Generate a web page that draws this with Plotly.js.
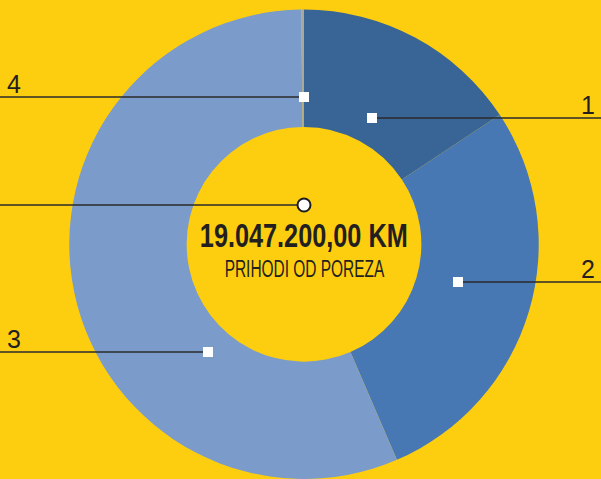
<!DOCTYPE html>
<html><head><meta charset="utf-8">
<script src="https://cdn.plot.ly/plotly-3.0.1.min.js"></script>
<style>html,body{margin:0;padding:0;background:#FDCE10;overflow:hidden}</style>
</head><body>
<div id="chart" style="width:601px;height:479px"></div>
<script>
// Data
const categories = ['1', '2', '3', '4'];
const values = [2990000, 5300000, 10720000, 37200];
const totalLabel = '19.047.200,00 KM';
const subtitle = 'PRIHODI OD POREZA';
const sliceColors = ['#386595', '#4878B3', '#7B9BCA', '#A9A99B'];

// Layout constants (pixel coords in overlay axes)
const W = 601, H = 479;
const leaders = [
  {m: [372, 118], end: 601, lab: [597, 105], align: 'right'},
  {m: [458, 282], end: 601, lab: [597, 269], align: 'right'},
  {m: [208, 352], end: 0, lab: [5, 339], align: 'left'},
  {m: [304, 97], end: 0, lab: [5, 84], align: 'left'}
];
const centerLeader = {m: [304, 205], end: 0};
const lineColor = '#2a2a2a';

const traces = [{
  type: 'pie',
  labels: categories,
  values: values,
  hole: 0.5,
  sort: false,
  direction: 'clockwise',
  rotation: 0,
  textinfo: 'none',
  hoverinfo: 'label+value+percent',
  marker: {colors: sliceColors, line: {width: 0}},
  domain: {x: [68 / W, 540 / W], y: [0, 0.98]},
  showlegend: false
}, {
  // invisible trace to establish the overlay axes
  type: 'scatter', mode: 'markers', x: [0, W], y: [0, H],
  marker: {opacity: 0}, hoverinfo: 'skip', showlegend: false
}];

const shapes = [];
leaders.forEach(l => {
  shapes.push({type: 'line', xref: 'x', yref: 'y', layer: 'above',
    x0: l.m[0], x1: l.end, y0: l.m[1], y1: l.m[1],
    line: {color: lineColor, width: 1.5}});
});
shapes.push({type: 'line', xref: 'x', yref: 'y', layer: 'above',
  x0: centerLeader.m[0], x1: centerLeader.end, y0: centerLeader.m[1], y1: centerLeader.m[1],
  line: {color: lineColor, width: 1.5}});
const sq = 5;
leaders.forEach(l => {
  shapes.push({type: 'rect', xref: 'x', yref: 'y', layer: 'above',
    x0: l.m[0] - sq, x1: l.m[0] + sq, y0: l.m[1] - sq, y1: l.m[1] + sq,
    fillcolor: '#ffffff', line: {width: 0}});
});
const cr = 6.5;
shapes.push({type: 'circle', xref: 'x', yref: 'y', layer: 'above',
  x0: centerLeader.m[0] - cr, x1: centerLeader.m[0] + cr,
  y0: centerLeader.m[1] - cr, y1: centerLeader.m[1] + cr,
  fillcolor: '#ffffff', line: {width: 2, color: '#1e1e1e'}});

const annotations = leaders.map((l, i) => ({
  xref: 'x', yref: 'y', x: l.lab[0], y: l.lab[1], text: categories[i],
  showarrow: false, xanchor: l.align, yanchor: 'middle',
  font: {family: 'Liberation Sans, sans-serif', size: 25, color: '#231F20'}
}));
annotations.push({
  xref: 'x', yref: 'y', x: 304, y: 235, text: '<b>' + totalLabel + '</b>', showarrow: false,
  xanchor: 'center', yanchor: 'middle',
  font: {family: 'Liberation Sans, sans-serif', size: 33, color: '#231F20'}
});
annotations.push({
  xref: 'x', yref: 'y', x: 304, y: 269, text: subtitle, showarrow: false,
  xanchor: 'center', yanchor: 'middle',
  font: {family: 'Liberation Sans, sans-serif', size: 23.5, color: '#231F20'}
});
const condenseTargets = [{idx: annotations.length - 2, width: 208}, {idx: annotations.length - 1, width: 160}];

const layout = {
  width: W, height: H,
  margin: {l: 0, r: 0, t: 0, b: 0},
  paper_bgcolor: '#FDCE10', plot_bgcolor: 'rgba(0,0,0,0)',
  xaxis: {range: [0, W], domain: [0, 1], visible: false, fixedrange: true},
  yaxis: {range: [H, 0], domain: [0, 1], visible: false, fixedrange: true},
  annotations: annotations,
  shapes: shapes,
  showlegend: false
};

Plotly.newPlot('chart', traces, layout, {displayModeBar: false, staticPlot: true}).then(gd => {
  // emulate a condensed typeface by narrowing the centre texts horizontally
  const groups = gd.querySelectorAll('.annotation');
  condenseTargets.forEach(t => {
    const g = groups[t.idx];
    if (!g) return;
    const txt = g.querySelector('text');
    const bb = txt.getBBox();
    const s = t.width / bb.width;
    const cx = bb.x + bb.width / 2;
    txt.setAttribute('transform', `translate(${cx},0) scale(${s},1) translate(${-cx},0)`);
  });
});
</script>
</body></html>
